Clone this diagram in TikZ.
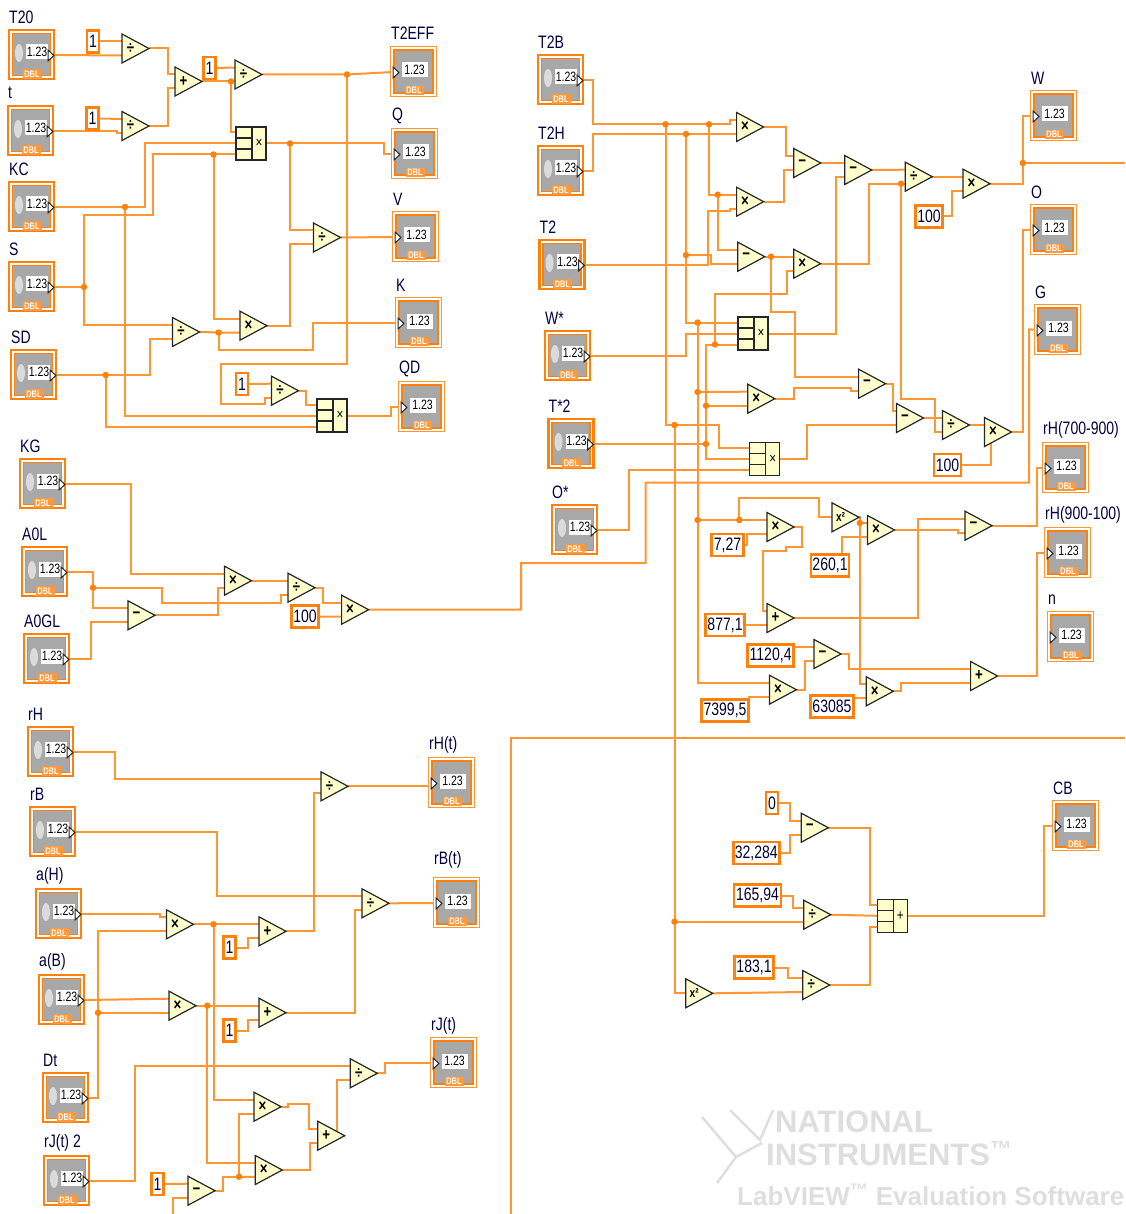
\documentclass[tikz,border=0pt]{standalone}
\usepackage{fontspec}
\setmainfont[FakeStretch=0.78]{Liberation Sans}
\newfontfamily\wmfont{Liberation Sans}
\usepackage{tikz}
\usetikzlibrary{shapes.geometric,backgrounds}
\definecolor{wirec}{RGB}{255,150,50}
\definecolor{darko}{RGB}{255,128,10}
\definecolor{gatec}{RGB}{255,255,205}
\definecolor{facec}{RGB}{168,168,168}
\newcommand{\sqsym}{{\fontsize{13}{13}\selectfont x²}}
\begin{document}
\begin{tikzpicture}[
  x=1pt,y=-1pt,
  wire/.style={draw=wirec,line width=2pt},
  dot/.style={circle,fill=darko,minimum size=6.5pt,inner sep=0pt,outer sep=0pt},
  gate/.style={isosceles triangle,isosceles triangle stretches,draw=black!85,fill=gatec,line width=1.2pt,
               minimum width=29pt,minimum height=27pt,inner sep=0pt,outer sep=0pt},
  opsym/.style={font=\fontsize{17}{17}\selectfont\bfseries,inner sep=0pt},
  cmpd/.style={rectangle,draw=black!85,fill=gatec,line width=1.3pt,minimum width=30pt,minimum height=33pt,inner sep=0pt,outer sep=0pt},
  cell/.style={draw=black!85,line width=1.3pt},
  konst/.style={rectangle,draw=darko,fill=white,line width=2.8pt,minimum height=22pt,inner sep=0pt,outer sep=0pt,
                font=\fontsize{18}{18}\selectfont,text=black!80!blue},
  tag/.style={font=\fontsize{18}{18}\selectfont,text=black!75!blue,inner sep=0pt,anchor=west},
  shellin/.style={rectangle,draw=darko,fill=white,line width=2.6pt,minimum width=45pt,minimum height=49pt,inner sep=0pt,outer sep=0pt},
  coreout/.style={rectangle,draw=darko,fill=facec,line width=1.1pt,minimum width=38pt,minimum height=42pt,inner sep=0pt,outer sep=0pt},
  shellout/.style={rectangle,draw=wirec,fill=white,line width=1.5pt,minimum width=46pt,minimum height=50pt,inner sep=0pt,outer sep=0pt},
  corein/.style={rectangle,draw=darko,fill=facec,line width=2.5pt,minimum width=39pt,minimum height=43pt,inner sep=0pt,outer sep=0pt},
  spin/.style={ellipse,fill=black!14,minimum width=8pt,minimum height=18pt,inner sep=0pt},
  val/.style={rectangle,fill=white,font=\fontsize{13.5}{13.5}\selectfont,minimum height=15pt,inner sep=0pt},
  dbl/.style={rectangle,fill=darko!80,text=white,font=\fontsize{9.5}{9.5}\selectfont\bfseries,minimum width=19pt,minimum height=9.5pt,inner sep=0pt},
  tip/.style={fill=white,draw=black!85,line width=1pt},
  hvh/.style={to path={-- (\tikztostart -| #1,0) -- (#1,0 |- \tikztotarget) -- (\tikztotarget)}},
  wmark/.style={font=\wmfont\fontsize{#1}{#1}\selectfont\bfseries,text=black!13,inner sep=0pt}
]
\useasboundingbox (0,0) rectangle (1125,1214);
\foreach \nm/\xx/\yy/\txt in {T20/8/29/T20,t/7/105/t,KC/8/181/KC,S/8/261/S,SD/10/349/SD,
    KG/19/458/KG,A0L/21/546/A0L,A0GL/23/633/A0GL,rH/27/726/rH,rB/29/806/rB,aH/35/888/a(H),aB/38/974/a(B),
    Dt/42/1072/Dt,rJtwo/43/1155/rJ(t) 2,T2B/537/54/T2B,T2H/537/145/T2H,T2/538.5/239/T2,Wstar/544/330/W*,
    Tstar/547.5/418/T*2,Ostar/551/504/O*}{
  \node[shellin] (\nm) at (\xx+23.5,\yy+25.5) {};
  \node[coreout] (\nm-f) at (\nm) {};
  \node[spin] (\nm-e) at (\xx+11,\yy+24) {};
  \node[val,minimum width=22pt] (\nm-v) at (\xx+29,\yy+23) {1.23};
  \node[dbl] (\nm-d) at (\xx+24,\yy+45) {DBL};
  \filldraw[tip] (\xx+40,\yy+21) -- (\xx+46,\yy+26.5) -- (\xx+40,\yy+32) -- cycle;
  \node[tag] (\nm-l) at (\xx+1,\yy-12) {\txt};
  \coordinate (\nm-o) at (\xx+47,\yy+26);
}
\foreach \nm/\xx/\yy/\dy/\txt in {T2EFF/390/46/13/T2EFF,Q/391/128/12/Q,V/392/211/12/V,K/395/297/12/K,QD/398/381/12/QD,
    rHt/428/757/12/rH(t),rBt/433/877/17/rB(t),rJt/430/1037/11/rJ(t),W/1030/90/12/W,O/1030/204/12/O,G/1034/304/12/G,
    rHa/1042/442/12/rH(700-900),rHb/1044/527/12/rH(900-100),n/1047/611/11/n,CB/1052/800/12/CB}{
  \node[shellout] (\nm) at (\xx+23.5,\yy+25.5) {};
  \node[corein] (\nm-f) at (\nm) {};
  \node[val,minimum width=26pt] (\nm-v) at (\xx+24.5,\yy+24) {1.23};
  \node[dbl] (\nm-d) at (\xx+24,\yy+44.5) {DBL};
  \filldraw[tip] (\xx+3,\yy+21) -- (\xx+9,\yy+26.5) -- (\xx+3,\yy+32) -- cycle;
  \node[tag] (\nm-l) at (\xx+1,\yy-\dy) {\txt};
  \coordinate (\nm-i) at (\xx+3,\yy+26);
}
\foreach \nm/\xx/\yy/\sym in {div1/122/48.5/÷,div2/122/126/÷,add1/175/81.5/+,div3/235/74.5/÷,div4/313.5/237.5/÷,
    mul1/240/325.7/×,div5/172.5/332/÷,div6/271.5/390.7/÷,mul2/224.5/580.7/×,div7/288/587.7/÷,mul3/341.6/609.7/×,
    sub1/128/615.3/−,div8/321/786.3/÷,mul4/166.5/924.3/×,add2/259/931.3/+,div9/362/903.3/÷,mul5/169/1005.7/×,
    add3/259/1012.7/+,div10/350.3/1073.3/÷,mul6/254/1106.7/×,mul7/255.3/1170/×,add4/317.7/1135.7/+,sub2/188/1190.7/−,
    mul8/736.6/127/×,mul9/736.6/201.7/×,sub3/737.8/256.7/−,mul10/793.7/263.7/×,sub4/793.7/163/−,sub5/844.7/170/−,
    div11/905.3/176.7/÷,mul11/963/183.7/×,mul12/747.8/398.7/×,sub6/858.6/383.7/−,sub7/896.5/418/−,div12/942.4/425/÷,
    mul13/984.5/432/×,mul14/767/527/×,mul15/867.5/530/×,sub8/965/525.7/−,add5/767/618/+,sub9/814/654/−,mul16/769.4/689.7/×,
    mul17/866.3/691.3/×,add6/970.6/676/+,sub10/801.3/827.7/−,div13/803.7/914.7/÷,div14/802.7/985/÷,sq1/832/517.3/\sqsym,sq2/685.7/993.3/\sqsym}{
  \node[gate,anchor=apex] (\nm) at (\xx+27,\yy) {};
  \node[opsym] (\nm-s) at (\xx+8.5,\yy) {\sym};
  \coordinate (\nm-a) at (\xx,\yy-7);
  \coordinate (\nm-b) at (\xx,\yy+7);
  \coordinate (\nm-m) at (\xx,\yy);
}
\foreach \nm/\xx/\yy/\sym in {prod1/236/127/×,prod2/317/399/×,prod3/738/317/×,prod4/749.7/442.7/×,sum1/877.3/899.3/+}{
  \node[cmpd] (\nm) at (\xx+15,\yy+16.5) {};
  \draw[cell] (\xx+16,\yy) -- (\xx+16,\yy+33) (\xx,\yy+11) -- (\xx+16,\yy+11) (\xx,\yy+22) -- (\xx+16,\yy+22);
  \node[opsym,font=\fontsize{15}{15}\selectfont] (\nm-s) at (\xx+23,\yy+16.5) {\sym};
  \coordinate (\nm-a) at (\xx,\yy+5.5);
  \coordinate (\nm-b) at (\xx,\yy+16.5);
  \coordinate (\nm-c) at (\xx,\yy+27.5);
}
\foreach \nm/\xx/\yy/\ww/\txt in {k1/93/41.5/12/1,k2/92.5/118.5/12/1,k3/209.5/68/12/1,k4/242/384/12/1,k5/305/616.5/27/100,
    k6/229.5/947.7/12/1,k7/229.5/1030.7/12/1,k8/157.5/1184/12/1,k9/929/216.5/27/100,k10/947.5/465/27/100,
    k11/727.5/545/32/{7,27},k12/725/625/39/{877,1},k13/830/565.7/38/{260,1},k14/770.6/655.5/46/{1120,4},
    k15/725/710.5/47/{7399,5},k16/832/706.5/43/63085,k17/772/803/12/0,k18/756.3/853/46/{32,284},
    k19/757.5/895.5/47/{165,94},k20/754/967.5/39/{183,1}}{
  \node[konst,minimum width=\ww pt] (\nm) at (\xx,\yy) {\txt};
}
\foreach \nm/\xx/\yy in {j1/231/81.5,j2/347/74.5,j3/125/207,j4/84/287,j5/213.5/154.5,j6/105.7/375,j7/218.5/332.5,j8/290/143.5,
    j9/93/587.7,j10/98/1012.7,j11/213.5/924.3,j12/207.3/1005.7,j13/239/1176.7,j14/665.5/124.3,j15/709/124.3,j16/686/134,
    j17/717.7/194.7,j18/686/255,j19/697.6/322.5,j20/697.6/392,j21/697.6/520,j22/739.3/520,j23/674.5/425,j24/674.5/921.7,
    j25/706/444,j26/706/405.7,j27/715/344.5,j28/771/256.7,j29/901/183.7,j30/1022.8/163,j31/859.8/523}{
  \node[dot] (\nm) at (\xx,\yy) {};
}
\coordinate (tail) at (173,1214);
\coordinate (busA) at (510.5,1214);
\coordinate (busB) at (1125,738);
\coordinate (eastEnd) at (1125,163);
\coordinate (mul13-u) at (991,437);
\node[wmark=31,anchor=west] (ni1) at (775,1122) {NATIONAL};
\node[wmark=31,anchor=west] (ni2) at (766,1154) {INSTRUMENTS\textsuperscript{™}};
\node[wmark=26,anchor=west] (ni3) at (737,1195) {LabVIEW\textsuperscript{™} Evaluation Software};
\draw[black!13,line width=2.5pt] (702,1117) -- (736,1157) -- (717,1183) (736,1157) -- (762,1143)
  (730,1110) -- (760,1140) -- (773,1110);
\begin{scope}[on background layer]
\draw[wire] (T20-o) -- (div1-b);
\draw[wire] (k1.east) -- (div1-a);
\draw[wire] (t-o) to[hvh=117] (div2-b);
\draw[wire] (k2.east) -- (div2-a);
\draw[wire] (div1.apex) to[hvh=168] (add1-a);
\draw[wire] (div2.apex) to[hvh=168] (add1-b);
\draw[wire] (add1.apex) -- (j1.center) -- (div3-b);
\draw[wire] (k3.east) -- (div3-a);
\draw[wire] (j1.center) |- (prod1-a);
\draw[wire] (div3.apex) -- (j2.center) -- (T2EFF-i);
\draw[wire] (j2.center) |- (221,364) |- (265,404) |- (div6-b);
\draw[wire] (KC-o) -- (j3.center);
\draw[wire] (j3.center) to[hvh=145] (prod1-b);
\draw[wire] (j3.center) |- (prod2-b);
\draw[wire] (S-o) -- (j4.center);
\draw[wire] (j4.center) |- (153,215) |- (j5.center);
\draw[wire] (j5.center) -- (prod1-c);
\draw[wire] (j5.center) |- (mul1-a);
\draw[wire] (j4.center) |- (div5-a);
\draw[wire] (SD-o) -- (j6.center);
\draw[wire] (j6.center) to[hvh=150] (div5-b);
\draw[wire] (j6.center) |- (prod2-c);
\draw[wire] (div5.apex) -- (j7.center) -- (mul1-b);
\draw[wire] (j7.center) |- (312.5,350) |- (K-i);
\draw[wire] (prod1.east) -- (j8.center);
\draw[wire] (j8.center) to[hvh=384] (Q-i);
\draw[wire] (j8.center) |- (div4-a);
\draw[wire] (mul1.apex) to[hvh=289.5] (div4-b);
\draw[wire] (div4.apex) -- (V-i);
\draw[wire] (k4.east) -- (div6-a);
\draw[wire] (div6.apex) to[hvh=306] (prod2-a);
\draw[wire] (prod2.east) to[hvh=391] (QD-i);
\draw[wire] (KG-o) to[hvh=131] (mul2-a);
\draw[wire] (A0L-o) -| (j9.center);
\draw[wire] (j9.center) |- (sub1-a);
\draw[wire] (j9.center) -| (162,603) -| (281,594.7) -- (div7-b);
\draw[wire] (A0GL-o) to[hvh=90.5] (sub1-b);
\draw[wire] (sub1.apex) to[hvh=217.5] (mul2-b);
\draw[wire] (mul2.apex) -- (div7-a);
\draw[wire] (div7.apex) to[hvh=323] (mul3-a);
\draw[wire] (k5.east) -- (mul3-b);
\draw[wire] (mul3.apex) -| (521,563) -| (645.5,482.7) -| (1029,329.3) -- (G-i);
\draw[wire] (rH-o) to[hvh=114.5] (div8-a);
\draw[wire] (div8.apex) -- (rHt-i |- div8.apex);
\draw[wire] (rB-o) to[hvh=216.5] (div9-a);
\draw[wire] (aH-o) to[hvh=160] (mul4-a);
\draw[wire] (Dt-o) -| (j10.center);
\draw[wire] (j10.center) |- (mul4-b);
\draw[wire] (j10.center) -- (mul5-b);
\draw[wire] (aB-o) -- (mul5-a);
\draw[wire] (mul4.apex) -- (j11.center) -- (add2-a);
\draw[wire] (j11.center) |- (mul6-a);
\draw[wire] (mul5.apex) -- (j12.center) -- (add3-a);
\draw[wire] (j12.center) |- (mul7-a);
\draw[wire] (k6.east) to[hvh=248] (add2-b);
\draw[wire] (k7.east) to[hvh=248] (add3-b);
\draw[wire] (add2.apex) to[hvh=314] (div8-b);
\draw[wire] (add3.apex) to[hvh=354.7] (div9-b);
\draw[wire] (div9.apex) -- (rBt-i);
\draw[wire] (rJtwo-o) to[hvh=135] (div10-a);
\draw[wire] (div10.apex) to[hvh=385] (rJt-i);
\draw[wire] (add4.apex) to[hvh=336.7] (div10-b);
\draw[wire] (mul6.apex) -| (288,1104) -| (308.7,1128.7) -- (add4-a);
\draw[wire] (mul7.apex) to[hvh=310.3] (add4-b);
\draw[wire] (k8.east) -- (sub2-a);
\draw[wire] (sub2.apex) to[hvh=222.7] (j13.center);
\draw[wire] (j13.center) -- (mul7-b);
\draw[wire] (j13.center) |- (mul6-b);
\draw[wire] (sub2-b) -| (tail);
\draw[wire] (busA) |- (busB);
\draw[wire] (T2B-o) to[hvh=593] (j14.center);
\draw[wire] (j14.center) -- (j15.center);
\draw[wire] (j15.center) -| (730,120) -- (mul8-a);
\draw[wire] (T2H-o) to[hvh=593] (j16.center);
\draw[wire] (j16.center) -- (mul8-b);
\draw[wire] (j14.center) |- (j23.center);
\draw[wire] (j23.center) to[hvh=719] (prod4-a);
\draw[wire] (j23.center) -- (j24.center);
\draw[wire] (j24.center) -- (div13-b);
\draw[wire] (j24.center) |- (sq2-m);
\draw[wire] (j15.center) |- (j17.center);
\draw[wire] (j17.center) -- (mul9-a);
\draw[wire] (j17.center) |- (sub3-a);
\draw[wire] (j16.center) -- (j18.center);
\draw[wire] (j18.center) to[hvh=711] (sub3-b);
\draw[wire] (j18.center) |- (j19.center);
\draw[wire] (j19.center) -- (prod3-a);
\draw[wire] (j19.center) -- (j20.center) -- (j21.center);
\draw[wire] (j21.center) |- (mul16-a);
\draw[wire] (j20.center) -- (mul12-a);
\draw[wire] (T2-o) -| (707.7,211) -| (730,208.7) -- (mul9-b);
\draw[wire] (Wstar-o) to[hvh=686] (prod3-b);
\draw[wire] (Tstar-o) -- (j25.center);
\draw[wire] (j25.center) -- (j26.center);
\draw[wire] (j26.center) -- (mul12-b);
\draw[wire] (j26.center) |- (j27.center);
\draw[wire] (j27.center) -- (prod3-c);
\draw[wire] (j27.center) |- (786.5,293.7) |- (mul10-b);
\draw[wire] (j25.center) |- (prod4-b);
\draw[wire] (mul8.apex) to[hvh=786] (sub4-a);
\draw[wire] (mul9.apex) to[hvh=784] (sub4-b);
\draw[wire] (sub3.apex) -- (j28.center) -- (mul10-a);
\draw[wire] (j28.center) |- (794.5,311.7) |- (sub6-a);
\draw[wire] (mul10.apex) to[hvh=869.4] (j29.center);
\draw[wire] (j29.center) -- (div11-b);
\draw[wire] (j29.center) |- (935.4,399) |- (div12-b);
\draw[wire] (sub4.apex) -- (sub5-a);
\draw[wire] (prod3.east) to[hvh=836] (sub5-b);
\draw[wire] (sub5.apex) -- (div11-a);
\draw[wire] (div11.apex) -- (mul11-a);
\draw[wire] (k9.east) to[hvh=951.5] (mul11-b);
\draw[wire] (mul11.apex) -| (j30.center);
\draw[wire] (j30.center) |- (W-i);
\draw[wire] (j30.center) -- (eastEnd);
\draw[wire] (div12.apex) -- (mul13-a);
\draw[wire] (k10.east) -| (mul13-u);
\draw[wire] (mul13.apex) to[hvh=1022.8] (O-i);
\draw[wire] (mul12.apex) -| (794,387.7) -| (851,390.7) -- (sub6-b);
\draw[wire] (sub6.apex) to[hvh=892.5] (sub7-a);
\draw[wire] (prod4.east) to[hvh=807] (sub7-b);
\draw[wire] (sub7.apex) -- (div12-a);
\draw[wire] (Ostar-o) to[hvh=629] (prod4-c);
\draw[wire] (j21.center) -- (j22.center) -- (mul14-a);
\draw[wire] (j22.center) |- (818.5,498) |- (sq1-m);
\draw[wire] (k11.east) to[hvh=746.5] (mul14-b);
\draw[wire] (mul14.apex) -| (801.8,546.7) -| (786.4,550.7) -| (762.5,611) -- (add5-a);
\draw[wire] (k12.east) -- (add5-b);
\draw[wire] (add5.apex) to[hvh=917.6] (sub8-a);
\draw[wire] (sq1.apex) -| (j31.center);
\draw[wire] (j31.center) -- (mul15-a);
\draw[wire] (j31.center) |- (mul17-a);
\draw[wire] (k13.north -| 842.4,0) |- (mul15-b);
\draw[wire] (mul15.apex) to[hvh=958] (sub8-b);
\draw[wire] (sub8.apex) to[hvh=1036.6] (rHa-i);
\draw[wire] (sub9-a -| k14.east) -- (sub9-a);
\draw[wire] (mul16.apex) to[hvh=805] (sub9-b);
\draw[wire] (k15.north east) |- (mul16-b);
\draw[wire] (sub9.apex) to[hvh=848.5] (add6-a);
\draw[wire] (mul17.apex) to[hvh=900.7] (add6-b);
\draw[wire] (mul17-b -| k16.east) -- (mul17-b);
\draw[wire] (add6.apex) to[hvh=1036.6] (rHb-i);
\draw[wire] (k17.east) to[hvh=790] (sub10-a);
\draw[wire] (k18.east) to[hvh=790] (sub10-b);
\draw[wire] (sub10.apex) to[hvh=870] (sum1-a);
\draw[wire] (k19.east) to[hvh=793] (div13-a);
\draw[wire] (div13.apex) -- (sum1-b);
\draw[wire] (k20.east) to[hvh=787.5] (div14-a);
\draw[wire] (sq2.apex) -- (div14-b);
\draw[wire] (div14.apex) to[hvh=870] (sum1-c);
\draw[wire] (sum1.east) to[hvh=1044] (CB-i);
\end{scope}
\end{tikzpicture}
\end{document}
